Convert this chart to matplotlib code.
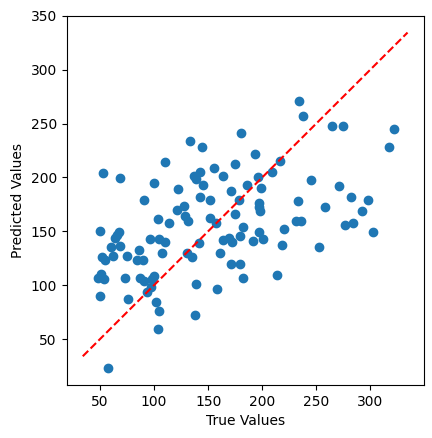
import matplotlib
matplotlib.use("Agg")
import matplotlib.pyplot as plt

# values
true_vals = [
    233.8, 237.8, 264.4, 275.2, 322.3, 317.3, 180.6, 132.9, 144.7, 192.9,
    110.0, 174.7, 216.5, 155.8, 52.8, 68.6, 136.6, 142.8, 138.5, 164.2,
    195.7, 209.0, 100.1, 145.3, 186.4, 244.9, 270.9, 122.4, 170.7, 198.5,
    90.8, 142.8, 151.5, 178.7, 232.9, 282.1, 297.5, 257.9, 196.6, 197.2,
    197.9, 128.0, 121.2, 292.3, 175.3, 128.6, 131.7, 103.8, 114.0, 152.1,
    157.1, 231.0, 235.6, 276.2, 283.9, 302.2, 220.2, 182.7, 179.6, 197.2,
    200.7, 191.7, 169.6, 164.0, 171.9, 141.6, 49.7, 67.6, 65.5, 63.9,
    60.2, 68.6, 95.8, 104.5, 110.3, 107.5, 130.1, 135.1, 160.8, 218.3,
    252.7, 51.9, 54.3, 62.4, 75.1, 86.2, 84.0, 89.6, 48.1, 50.6,
    54.0, 73.2, 86.8, 90.2, 97.6, 99.8, 93.3, 97.0, 50.0, 76.0,
    102.0, 104.7, 103.8, 57.4, 138.8, 137.9, 158.0, 182.1, 214.0, 170.7,
    179.6,
]
pred_vals = [
    271.1, 256.6, 247.3, 247.3, 245.1, 228.7, 240.8, 234.0, 228.7, 222.2,
    213.9, 212.3, 215.7, 208.3, 203.7, 199.9, 201.8, 204.9, 199.0, 200.9,
    200.6, 204.9, 194.4, 193.4, 193.4, 198.0, 191.9, 189.7, 187.3, 190.6,
    178.9, 181.4, 178.6, 178.9, 177.7, 181.4, 178.6, 173.0, 176.4, 172.7,
    168.7, 173.9, 170.2, 169.3, 165.9, 164.0, 160.0, 161.3, 157.9, 161.9,
    157.9, 159.1, 159.1, 155.4, 157.6, 148.9, 152.6, 153.8, 146.1, 149.8,
    142.4, 141.2, 143.6, 141.8, 140.5, 139.6, 150.7, 148.9, 146.4, 143.6,
    135.3, 136.5, 143.0, 143.0, 140.5, 129.4, 130.3, 126.6, 129.4, 137.7,
    135.0, 125.7, 123.8, 126.9, 126.9, 132.2, 123.2, 123.2, 107.1, 110.2,
    105.3, 107.1, 107.1, 103.7, 105.3, 108.4, 93.8, 98.4, 90.4, 86.7,
    84.2, 75.9, 59.2, 22.9, 100.9, 72.2, 96.3, 106.2, 109.0, 119.2,
    119.2,
]
# ends of the dashed reference line
line_lims = [34, 334.5]

fig, ax = plt.subplots(figsize=(4.32, 4.38), dpi=100)
fig.subplots_adjust(left=0.154, right=0.981, top=0.964, bottom=0.121)

ax.scatter(true_vals, pred_vals, s=36)
ax.plot(line_lims, line_lims, "r--")
ax.set_xlabel("True Values")
ax.set_ylabel("Predicted Values")

plt.savefig("out.png", dpi=100)
plt.close()
